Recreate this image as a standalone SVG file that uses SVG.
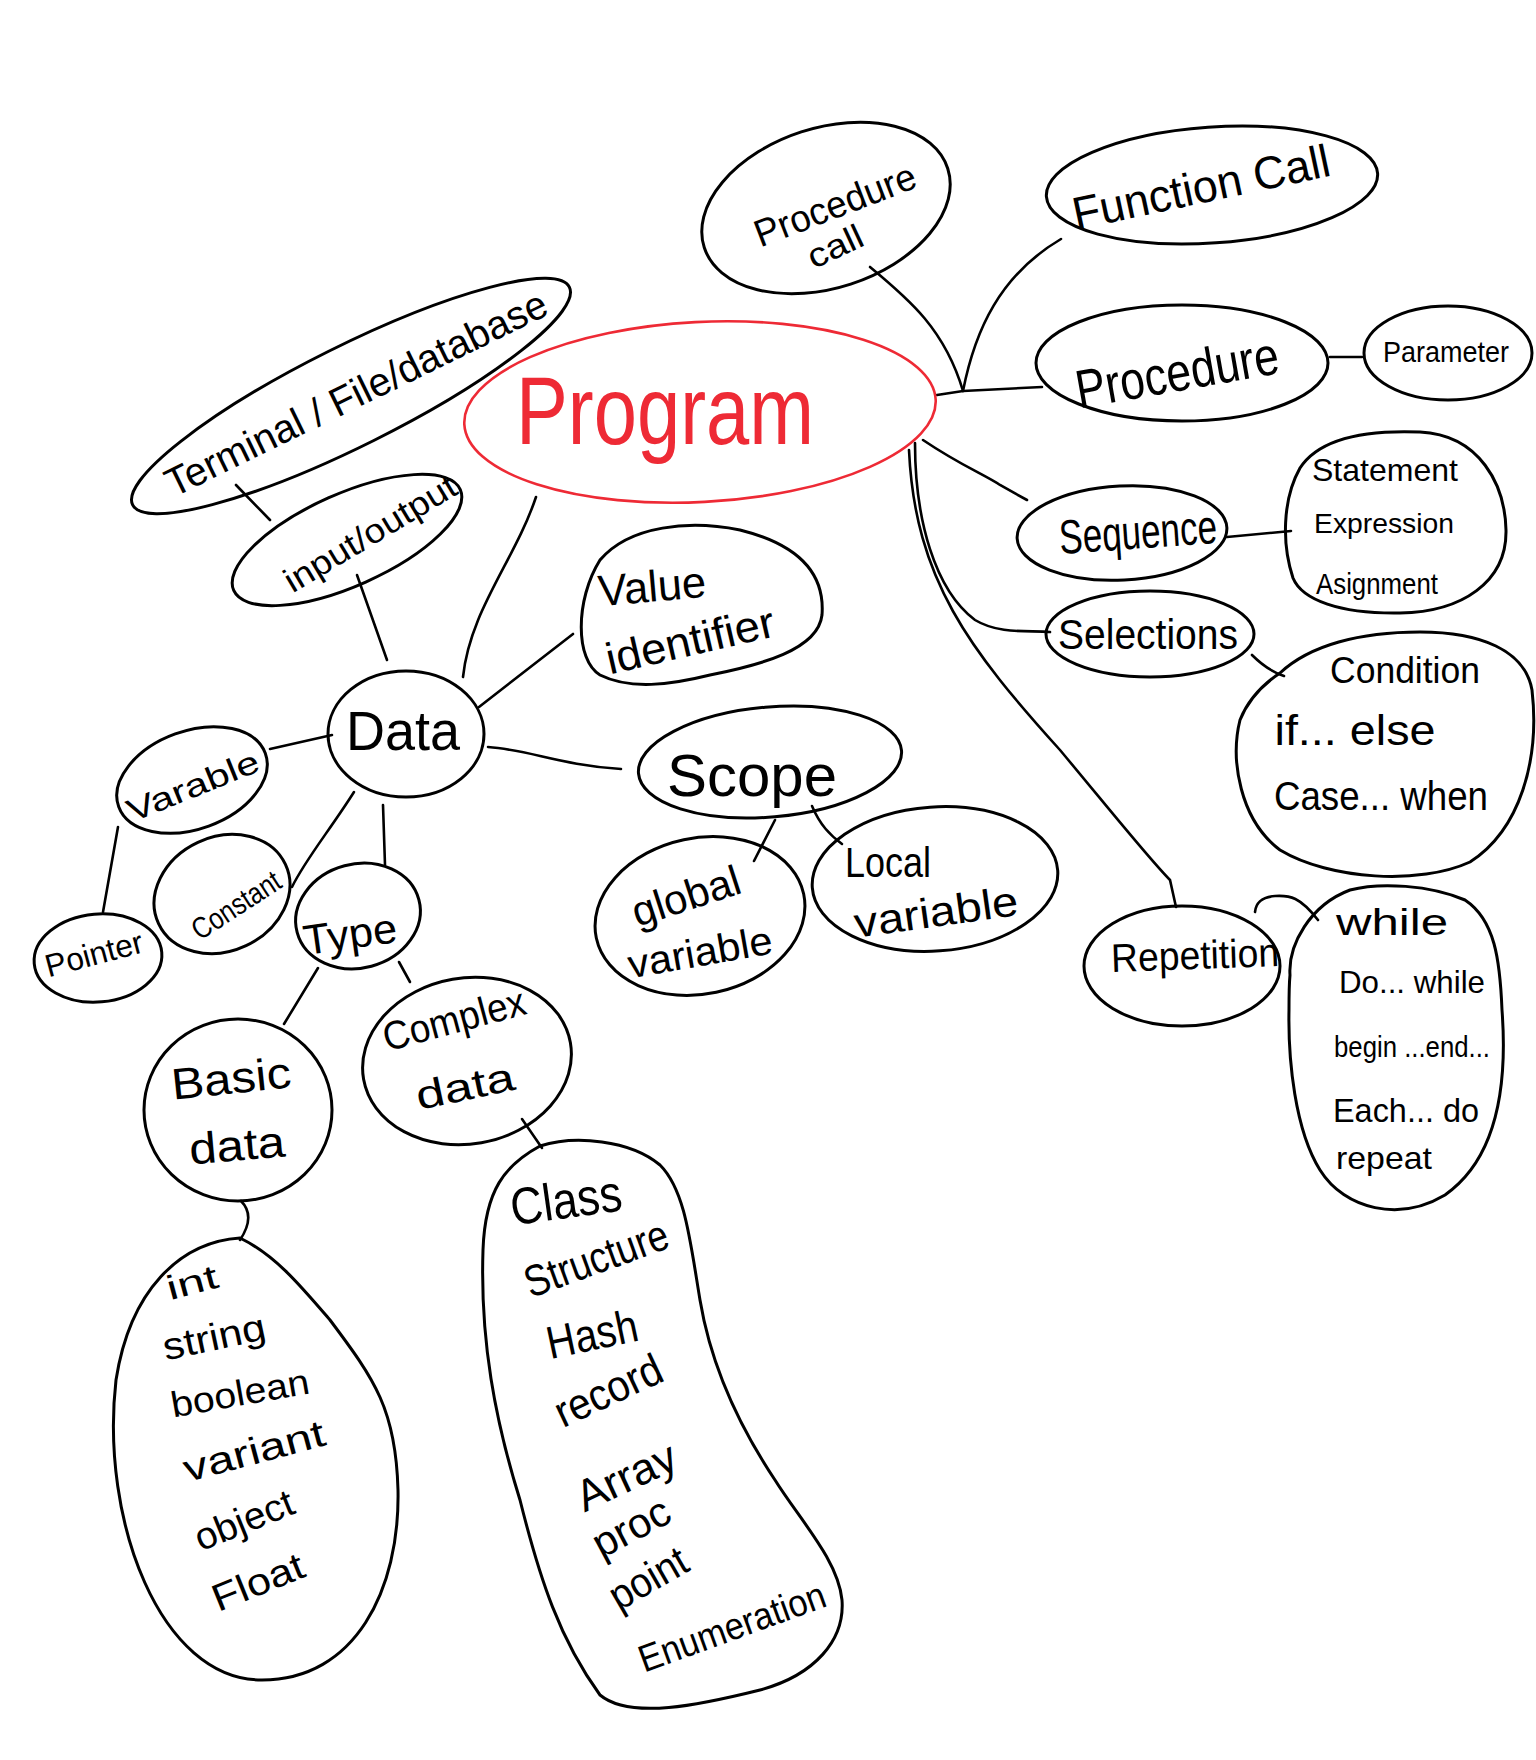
<svg xmlns="http://www.w3.org/2000/svg" width="1536" height="1760" viewBox="0 0 1536 1760">
<defs>
<style>
.n{fill:none;stroke:#000;stroke-width:3;stroke-linecap:round;stroke-linejoin:round}
.c{fill:none;stroke:#000;stroke-width:2.6;stroke-linecap:round}
.t{font-family:"Liberation Sans",Arial,sans-serif;fill:#000;text-anchor:middle;dominant-baseline:central}
.red{fill:#ee2a35}
</style>
</defs>
<rect width="1536" height="1760" fill="#fff"/>

<g id="connectors">
<path class="c" d="M937,395 L963,391 L1042,387"/>
<path class="c" d="M963,391 C945,330 910,300 870,267"/>
<path class="c" d="M963,391 C975,330 1000,275 1061,239"/>
<path class="c" d="M1330,357 L1362,357"/>
<path class="c" d="M923,440 C960,465 985,475 1000,485 L1027,500"/>
<path class="c" d="M915,443 C915,520 935,590 975,620 C1000,635 1030,630 1050,632"/>
<path class="c" d="M909,450 C915,580 970,650 1060,750 C1110,810 1150,860 1170,880 L1176,907"/>
<path class="c" d="M1227,537 L1291,531"/>
<path class="c" d="M1252,655 C1262,665 1272,672 1284,676"/>
<path class="c" d="M1255,912 C1256,902 1262,897 1275,896 C1290,895 1300,897 1318,920"/>
<path class="c" d="M536,497 C515,560 470,610 463,677"/>
<path class="c" d="M357,575 L387,660"/>
<path class="c" d="M236,485 L270,520"/>
<path class="c" d="M479,707 L573,634"/>
<path class="c" d="M488,747 C530,750 560,765 621,769"/>
<path class="c" d="M332,735 L270,749"/>
<path class="c" d="M118,827 L103,912"/>
<path class="c" d="M354,792 C330,830 305,860 292,887"/>
<path class="c" d="M383,805 L385,865"/>
<path class="c" d="M318,968 L284,1024"/>
<path class="c" d="M399,962 L410,982"/>
<path class="c" d="M241,1201 C252,1212 250,1225 240,1240"/>
<path class="c" d="M522,1119 L542,1148"/>
<path class="c" d="M775,820 L754,861"/>
<path class="c" d="M812,806 C820,825 830,835 842,844"/>
</g>

<g id="program">
<ellipse cx="700" cy="412" rx="236" ry="90" fill="none" stroke="#ee2a35" stroke-width="2.6" transform="rotate(-3 700 412)"/>
<text class="t red" x="665" y="410" font-size="96" textLength="298" lengthAdjust="spacingAndGlyphs">Program</text>
</g>

<g id="terminal">
<ellipse class="n" cx="351" cy="396" rx="244" ry="50" transform="rotate(-26.5 351 396)"/>
<text class="t" x="356" y="393" font-size="40" textLength="420" lengthAdjust="spacingAndGlyphs" transform="rotate(-26 356 393)">Terminal / File/database</text>
</g>

<g id="inputoutput">
<ellipse class="n" cx="347" cy="540" rx="124" ry="46" transform="rotate(-24 347 540)"/>
<text class="t" x="370" y="533" font-size="34" textLength="195" lengthAdjust="spacingAndGlyphs" transform="rotate(-31 370 533)">input/output</text>
</g>

<g id="procedure-call">
<ellipse class="n" cx="826" cy="208" rx="128" ry="80" transform="rotate(-18 826 208)"/>
<text class="t" x="835" y="205" font-size="38" textLength="170" lengthAdjust="spacingAndGlyphs" transform="rotate(-21 835 205)">Procedure</text>
<text class="t" x="835" y="246" font-size="34" textLength="58" lengthAdjust="spacingAndGlyphs" transform="rotate(-25 835 246)">call</text>
</g>

<g id="function-call">
<ellipse class="n" cx="1212" cy="185" rx="166" ry="58" transform="rotate(-4 1212 185)"/>
<text class="t" x="1201" y="187" font-size="46" textLength="262" lengthAdjust="spacingAndGlyphs" transform="rotate(-12 1201 187)">Function Call</text>
</g>

<g id="procedure">
<ellipse class="n" cx="1182" cy="363" rx="146" ry="58"/>
<text class="t" x="1177" y="372" font-size="54" textLength="205" lengthAdjust="spacingAndGlyphs" transform="rotate(-10 1177 372)">Procedure</text>
</g>

<g id="parameter">
<ellipse class="n" cx="1448" cy="353" rx="84" ry="47"/>
<text class="t" x="1446" y="352" font-size="29" textLength="126" lengthAdjust="spacingAndGlyphs">Parameter</text>
</g>

<g id="sequence">
<ellipse class="n" cx="1122" cy="533" rx="105" ry="47" transform="rotate(-3 1122 533)"/>
<text class="t" x="1138" y="532" font-size="48" textLength="158" lengthAdjust="spacingAndGlyphs" transform="rotate(-4 1138 532)">Sequence</text>
</g>

<g id="statement">
<path class="n" d="M1300,468 C1320,437 1370,430 1420,432 C1480,435 1505,485 1506,530 C1507,582 1462,612 1400,613 C1340,614 1302,600 1293,578 C1282,545 1282,500 1300,468 Z"/>
<text class="t" x="1385" y="470" font-size="32" textLength="146" lengthAdjust="spacingAndGlyphs">Statement</text>
<text class="t" x="1384" y="523" font-size="28" textLength="140" lengthAdjust="spacingAndGlyphs">Expression</text>
<text class="t" x="1377" y="583" font-size="30" textLength="122" lengthAdjust="spacingAndGlyphs">Asignment</text>
</g>

<g id="selections">
<ellipse class="n" cx="1150" cy="634" rx="104" ry="43"/>
<text class="t" x="1148" y="634" font-size="42" textLength="180" lengthAdjust="spacingAndGlyphs">Selections</text>
</g>

<g id="condition">
<path class="n" d="M1280,673 C1310,645 1360,632 1420,632 C1480,632 1525,650 1532,690 C1540,760 1520,830 1470,862 C1420,885 1330,880 1280,850 C1240,820 1230,760 1240,720 C1248,700 1262,685 1280,673 Z"/>
<text class="t" x="1405" y="670" font-size="36" textLength="150" lengthAdjust="spacingAndGlyphs">Condition</text>
<text class="t" x="1355" y="730" font-size="42" textLength="161" lengthAdjust="spacingAndGlyphs">if... else</text>
<text class="t" x="1381" y="796" font-size="40" textLength="214" lengthAdjust="spacingAndGlyphs">Case... when</text>
</g>

<g id="repetition">
<ellipse class="n" cx="1182" cy="966" rx="98" ry="60"/>
<text class="t" x="1195" y="955" font-size="40" textLength="168" lengthAdjust="spacingAndGlyphs" transform="rotate(-2 1195 955)">Repetition</text>
</g>

<g id="loops">
<path class="n" d="M1290,975 C1288,945 1310,905 1350,890 C1380,882 1430,885 1465,900 C1495,920 1500,960 1502,1010 C1508,1090 1495,1160 1445,1195 C1400,1222 1345,1210 1320,1170 C1295,1130 1288,1060 1289,1010 C1289,995 1289,985 1290,975 Z"/>
<text class="t" x="1392" y="922" font-size="36" textLength="112" lengthAdjust="spacingAndGlyphs">while</text>
<text class="t" x="1412" y="982" font-size="32" textLength="146" lengthAdjust="spacingAndGlyphs">Do... while</text>
<text class="t" x="1412" y="1046" font-size="30" textLength="156" lengthAdjust="spacingAndGlyphs">begin ...end...</text>
<text class="t" x="1406" y="1110" font-size="34" textLength="146" lengthAdjust="spacingAndGlyphs">Each... do</text>
<text class="t" x="1384" y="1158" font-size="32" textLength="96" lengthAdjust="spacingAndGlyphs">repeat</text>
</g>

<g id="data">
<ellipse class="n" cx="406" cy="734" rx="78" ry="63"/>
<text class="t" x="403" y="730" font-size="56" textLength="114" lengthAdjust="spacingAndGlyphs">Data</text>
</g>

<g id="value-identifier">
<path class="n" d="M600,560 C630,525 690,520 740,530 C800,545 825,575 822,615 C818,650 760,665 710,675 C670,685 630,690 600,675 C575,660 575,600 600,560 Z"/>
<text class="t" x="652" y="586" font-size="44" textLength="108" lengthAdjust="spacingAndGlyphs" transform="rotate(-5 652 586)">Value</text>
<text class="t" x="690" y="640" font-size="44" textLength="172" lengthAdjust="spacingAndGlyphs" transform="rotate(-13 690 640)">identifier</text>
</g>

<g id="scope">
<ellipse class="n" cx="770" cy="762" rx="132" ry="55" transform="rotate(-5 770 762)"/>
<text class="t" x="752" y="775" font-size="60" textLength="170" lengthAdjust="spacingAndGlyphs">Scope</text>
</g>

<g id="global-variable">
<ellipse class="n" cx="700" cy="916" rx="106" ry="78" transform="rotate(-12 700 916)"/>
<text class="t" x="686" y="896" font-size="42" textLength="112" lengthAdjust="spacingAndGlyphs" transform="rotate(-18 686 896)">global</text>
<text class="t" x="700" y="952" font-size="40" textLength="146" lengthAdjust="spacingAndGlyphs" transform="rotate(-10 700 952)">variable</text>
</g>

<g id="local-variable">
<ellipse class="n" cx="935" cy="879" rx="123" ry="72" transform="rotate(-4 935 879)"/>
<text class="t" x="888" y="862" font-size="42" textLength="86" lengthAdjust="spacingAndGlyphs">Local</text>
<text class="t" x="936" y="912" font-size="42" textLength="165" lengthAdjust="spacingAndGlyphs" transform="rotate(-8 936 912)">variable</text>
</g>

<g id="variable">
<ellipse class="n" cx="192" cy="780" rx="78" ry="49" transform="rotate(-20 192 780)"/>
<text class="t" x="193" y="786" font-size="32" textLength="140" lengthAdjust="spacingAndGlyphs" transform="rotate(-22 193 786)">Varable</text>
</g>

<g id="constant">
<ellipse class="n" cx="222" cy="894" rx="70" ry="57" transform="rotate(-25 222 894)"/>
<text class="t" x="236" y="905" font-size="30" textLength="100" lengthAdjust="spacingAndGlyphs" transform="rotate(-33 236 905)">Constant</text>
</g>

<g id="pointer">
<ellipse class="n" cx="98" cy="958" rx="64" ry="44" transform="rotate(-5 98 958)"/>
<text class="t" x="94" y="954" font-size="32" textLength="100" lengthAdjust="spacingAndGlyphs" transform="rotate(-15 94 954)">Pointer</text>
</g>

<g id="type">
<ellipse class="n" cx="358" cy="916" rx="63" ry="52" transform="rotate(-15 358 916)"/>
<text class="t" x="350" y="934" font-size="42" textLength="94" lengthAdjust="spacingAndGlyphs" transform="rotate(-8 350 934)">Type</text>
</g>

<g id="basic-data">
<ellipse class="n" cx="238" cy="1110" rx="94" ry="91"/>
<text class="t" x="231" y="1078" font-size="44" textLength="120" lengthAdjust="spacingAndGlyphs" transform="rotate(-6 231 1078)">Basic</text>
<text class="t" x="237" y="1145" font-size="44" textLength="96" lengthAdjust="spacingAndGlyphs" transform="rotate(-5 237 1145)">data</text>
</g>

<g id="complex-data">
<ellipse class="n" cx="467" cy="1061" rx="105" ry="83" transform="rotate(-10 467 1061)"/>
<text class="t" x="454" y="1019" font-size="40" textLength="146" lengthAdjust="spacingAndGlyphs" transform="rotate(-15 454 1019)">Complex</text>
<text class="t" x="465" y="1086" font-size="40" textLength="100" lengthAdjust="spacingAndGlyphs" transform="rotate(-12 465 1086)">data</text>
</g>

<g id="basic-types">
<path class="n" d="M240,1238 C180,1242 130,1290 116,1380 C100,1520 160,1680 262,1680 C355,1680 400,1590 398,1490 C396,1410 375,1380 330,1320 C300,1285 275,1255 240,1238 Z"/>
<text class="t" x="192" y="1282" font-size="34" textLength="52" lengthAdjust="spacingAndGlyphs" transform="rotate(-15 192 1282)">int</text>
<text class="t" x="214" y="1337" font-size="38" textLength="104" lengthAdjust="spacingAndGlyphs" transform="rotate(-12 214 1337)">string</text>
<text class="t" x="240" y="1393" font-size="36" textLength="140" lengthAdjust="spacingAndGlyphs" transform="rotate(-10 240 1393)">boolean</text>
<text class="t" x="254" y="1451" font-size="38" textLength="145" lengthAdjust="spacingAndGlyphs" transform="rotate(-15 254 1451)">variant</text>
<text class="t" x="244" y="1520" font-size="38" textLength="104" lengthAdjust="spacingAndGlyphs" transform="rotate(-22 244 1520)">object</text>
<text class="t" x="258" y="1582" font-size="38" textLength="96" lengthAdjust="spacingAndGlyphs" transform="rotate(-22 258 1582)">Float</text>
</g>

<g id="complex-types">
<path class="n" d="M540,1146 C505,1165 485,1190 483,1250 C480,1340 495,1420 520,1500 C540,1580 560,1640 600,1695 C630,1720 700,1705 760,1690 C815,1675 845,1640 842,1600 C838,1560 800,1520 775,1480 C735,1420 710,1360 700,1300 C690,1240 685,1190 660,1165 C630,1140 575,1135 540,1146 Z"/>
<text class="t" x="566" y="1200" font-size="52" textLength="112" lengthAdjust="spacingAndGlyphs" transform="rotate(-8 566 1200)">Class</text>
<text class="t" x="596" y="1258" font-size="44" textLength="150" lengthAdjust="spacingAndGlyphs" transform="rotate(-20 596 1258)">Structure</text>
<text class="t" x="592" y="1334" font-size="46" textLength="92" lengthAdjust="spacingAndGlyphs" transform="rotate(-12 592 1334)">Hash</text>
<text class="t" x="608" y="1390" font-size="44" textLength="114" lengthAdjust="spacingAndGlyphs" transform="rotate(-25 608 1390)">record</text>
<text class="t" x="626" y="1476" font-size="44" textLength="106" lengthAdjust="spacingAndGlyphs" transform="rotate(-25 626 1476)">Array</text>
<text class="t" x="631" y="1527" font-size="42" textLength="82" lengthAdjust="spacingAndGlyphs" transform="rotate(-28 631 1527)">proc</text>
<text class="t" x="648" y="1578" font-size="42" textLength="84" lengthAdjust="spacingAndGlyphs" transform="rotate(-30 648 1578)">point</text>
<text class="t" x="732" y="1627" font-size="38" textLength="196" lengthAdjust="spacingAndGlyphs" transform="rotate(-20 732 1627)">Enumeration</text>
</g>
</svg>
